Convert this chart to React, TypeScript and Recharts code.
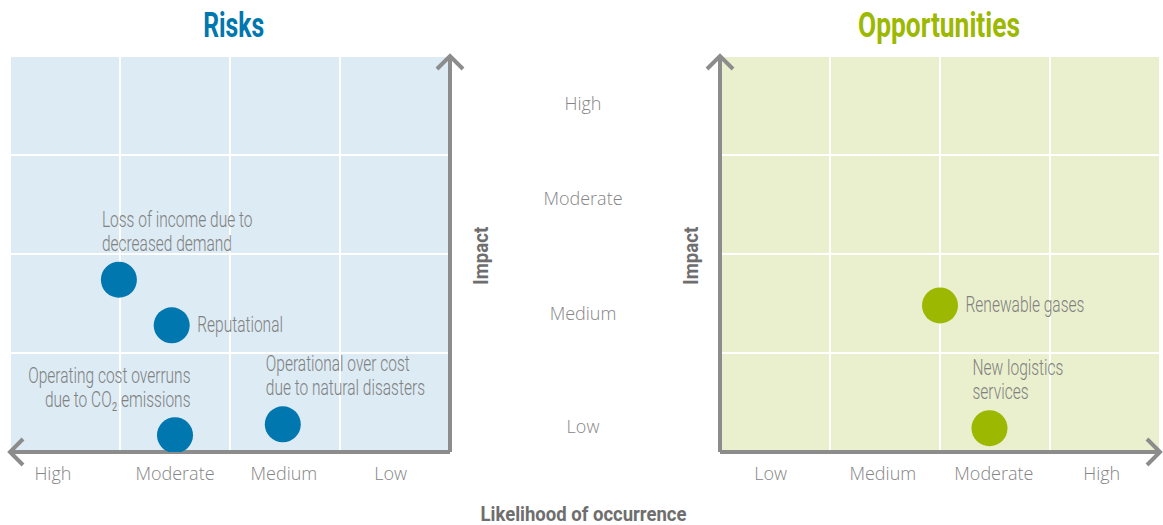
import React from "react";
import { ScatterChart, Scatter, XAxis, YAxis, CartesianGrid } from "recharts";

// ---------- data ----------
const likelihoodLevels = ["Low", "Medium", "Moderate", "High"];
const riskLevelTicks = [0.54, 1.51, 2.5, 3.61];
const oppLevelTicks = [0.46, 1.48, 2.49, 3.47];
const gridValues = [0, 1, 2, 3, 4];

const impactLevels = ["Low", "Medium", "Moderate", "High"];
const impactLabelValues = [0.26, 1.4, 2.56, 3.52];

const riskNames = [
  "Loss of income due to\ndecreased demand",
  "Reputational",
  "Operating cost overruns\ndue to CO\u2082 emissions",
  "Operational over cost\ndue to natural disasters",
];
const riskLikelihood = [3.01, 2.53, 2.5, 1.52];
const riskImpact = [1.74, 1.28, 0.17, 0.28];
const riskLabelSide = ["above", "right", "aboveLeft", "above"];

const oppNames = ["Renewable gases", "New logistics\nservices"];
const oppLikelihood = [2.0, 2.45];
const oppImpact = [1.48, 0.24];
const oppLabelSide = ["right", "above"];

// ---------- styles ----------
const BLUE = "#0077ae";
const GREEN = "#9cb800";
const BLUE_BG = "#dcebf4";
const GREEN_BG = "#eaf0cd";
const AXIS_GRAY = "#8c8c8c";
const TEXT_GRAY = "#808080";
const TICK_GRAY = "#858585";
const BOLD_GRAY = "#6e6e6e";
const LABEL_FONT = "Roboto, 'Liberation Sans', sans-serif";
const TICK_FONT = "'Open Sans', Roboto, sans-serif";
const SX = 0.705;

const riskData = riskNames.map((name, i) => ({
  name,
  x: riskLikelihood[i],
  y: riskImpact[i],
  side: riskLabelSide[i],
}));
const oppData = oppNames.map((name, i) => ({
  name,
  x: oppLikelihood[i],
  y: oppImpact[i],
  side: oppLabelSide[i],
}));

const makeShape = (color: string) => (props: any) => {
  const { cx, cy, payload } = props;
  const lines: string[] = String(payload.name).split("\n");
  let ax = cx - 17;
  let ay = cy - 53;
  let anchor: "start" | "end" = "start";
  if (payload.side === "right") {
    ax = cx + 25.5;
    ay = cy + 7;
  } else if (payload.side === "aboveLeft") {
    ax = cx + 15.5;
    ay = cy - 52;
    anchor = "end";
  }
  return (
    <g>
      <circle cx={cx} cy={cy} r={18} fill={color} />
      <g transform={`translate(${ax},${ay}) scale(${SX},1)`}>
        <text
          fontFamily={LABEL_FONT}
          fontSize={22}
          fontWeight={300}
          fill={TEXT_GRAY}
          textAnchor={anchor}
        >
          {lines.map((l, i) => (
            <tspan key={i} x={0} y={i * 24}>
              {l}
            </tspan>
          ))}
        </text>
      </g>
    </g>
  );
};

const makeBottomTick = (tickValues: number[]) => (props: any) => {
  const v = props.payload && props.payload.value;
  const idx = tickValues.findIndex((c) => Math.abs(c - v) < 1e-6);
  return (
    <text
      x={props.x}
      y={props.y}
      dy="0.71em"
      textAnchor="middle"
      fontFamily={TICK_FONT}
      fontWeight={300}
      fontSize={18}
      fill={TICK_GRAY}
    >
      {idx >= 0 ? likelihoodLevels[idx] : ""}
    </text>
  );
};

const midTick = (props: any) => {
  const v = props.payload && props.payload.value;
  const idx = impactLabelValues.findIndex((c) => Math.abs(c - v) < 1e-6);
  return (
    <text
      x={props.x}
      y={props.y}
      dy="0.35em"
      textAnchor="middle"
      fontFamily={TICK_FONT}
      fontWeight={300}
      fontSize={18}
      fill={TICK_GRAY}
    >
      {idx >= 0 ? impactLevels[idx] : ""}
    </text>
  );
};

const noTick = () => <g />;

const axisLineStart = { stroke: AXIS_GRAY, strokeWidth: 4, markerStart: "url(#chevron)" };
const axisLineEnd = { stroke: AXIS_GRAY, strokeWidth: 4, markerEnd: "url(#chevron)" };

export default function App() {
  return (
    <div
      style={{
        position: "absolute",
        left: 0,
        top: 0,
        width: 1163,
        height: 525,
        background: "#ffffff",
        overflow: "hidden",
      }}
    >
      <svg width={0} height={0} style={{ position: "absolute" }}>
        <defs>
          <marker
            id="chevron"
            markerUnits="userSpaceOnUse"
            markerWidth={40}
            markerHeight={40}
            viewBox="-20 -20 40 40"
            refX={0}
            refY={0}
            orient="auto-start-reverse"
          >
            <path
              d="M -13 -13 L 0 0 L -13 13"
              fill="none"
              stroke={AXIS_GRAY}
              strokeWidth={4}
            />
          </marker>
        </defs>
      </svg>

      {/* Risks */}
      <div style={{ position: "absolute", left: 0, top: 0 }}>
        <ScatterChart
          width={700}
          height={525}
          margin={{ top: 56, left: 10, right: 0, bottom: 43 }}
        >
          <CartesianGrid
            fill={BLUE_BG}
            fillOpacity={1}
            stroke="#ffffff"
            strokeWidth={2}
            verticalValues={gridValues}
            horizontalValues={gridValues}
          />
          <XAxis
            type="number"
            dataKey="x"
            domain={[0, 4]}
            ticks={riskLevelTicks}
            interval={0}
            reversed
            height={30}
            tickSize={0}
            tickMargin={15}
            tickLine={false}
            axisLine={axisLineStart}
            tick={makeBottomTick(riskLevelTicks)}
            allowDataOverflow
          />
          <YAxis
            type="number"
            dataKey="y"
            orientation="right"
            domain={[0, 4]}
            ticks={impactLabelValues}
            interval={0}
            width={250}
            tickSize={0}
            tickMargin={133}
            tickLine={false}
            axisLine={axisLineStart}
            tick={midTick}
            allowDataOverflow
          />
          <Scatter
            data={riskData}
            fill={BLUE}
            shape={makeShape(BLUE)}
            isAnimationActive={false}
          />
        </ScatterChart>
      </div>

      {/* Opportunities */}
      <div style={{ position: "absolute", left: 700, top: 0 }}>
        <ScatterChart
          width={463}
          height={525}
          margin={{ top: 56, left: 19, right: 3, bottom: 43 }}
        >
          <CartesianGrid
            fill={GREEN_BG}
            fillOpacity={1}
            stroke="#ffffff"
            strokeWidth={2}
            verticalValues={gridValues}
            horizontalValues={gridValues}
          />
          <XAxis
            type="number"
            dataKey="x"
            domain={[0, 4]}
            ticks={oppLevelTicks}
            interval={0}
            height={30}
            tickSize={0}
            tickMargin={15}
            tickLine={false}
            axisLine={axisLineEnd}
            tick={makeBottomTick(oppLevelTicks)}
            allowDataOverflow
          />
          <YAxis
            type="number"
            dataKey="y"
            orientation="left"
            domain={[0, 4]}
            ticks={gridValues}
            interval={0}
            width={1}
            tickSize={0}
            tickLine={false}
            axisLine={axisLineStart}
            tick={noTick}
            allowDataOverflow
          />
          <Scatter
            data={oppData}
            fill={GREEN}
            shape={makeShape(GREEN)}
            isAnimationActive={false}
          />
        </ScatterChart>
      </div>

      {/* titles */}
      <svg
        width={1163}
        height={525}
        style={{ position: "absolute", left: 0, top: 0, pointerEvents: "none" }}
      >
        <text
          x={233.7}
          y={37}
          textAnchor="middle"
          fontFamily={LABEL_FONT}
          fontWeight={700}
          fontSize={35}
          fill={BLUE}
          textLength={61}
          lengthAdjust="spacingAndGlyphs"
        >
          Risks
        </text>
        <text
          x={939}
          y={37}
          textAnchor="middle"
          fontFamily={LABEL_FONT}
          fontWeight={700}
          fontSize={35}
          fill={GREEN}
          textLength={162}
          lengthAdjust="spacingAndGlyphs"
        >
          Opportunities
        </text>
        <text
          transform="translate(488.3,255.8) rotate(-90)"
          textAnchor="middle"
          fontFamily={LABEL_FONT}
          fontWeight={700}
          fontSize={21}
          fill={BOLD_GRAY}
          textLength={58}
          lengthAdjust="spacingAndGlyphs"
        >
          Impact
        </text>
        <text
          transform="translate(697.7,255.8) rotate(-90)"
          textAnchor="middle"
          fontFamily={LABEL_FONT}
          fontWeight={700}
          fontSize={21}
          fill={BOLD_GRAY}
          textLength={58}
          lengthAdjust="spacingAndGlyphs"
        >
          Impact
        </text>
        <text
          x={583.5}
          y={521}
          textAnchor="middle"
          fontFamily={LABEL_FONT}
          fontWeight={700}
          fontSize={21}
          fill={BOLD_GRAY}
          textLength={206}
          lengthAdjust="spacingAndGlyphs"
        >
          Likelihood of occurrence
        </text>
      </svg>
    </div>
  );
}
